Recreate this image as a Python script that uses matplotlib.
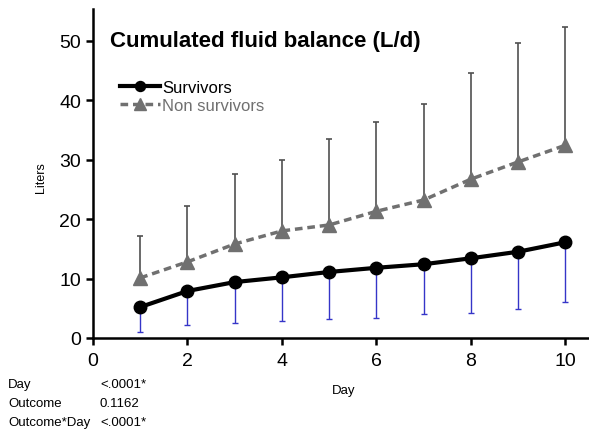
import numpy as np
import matplotlib.pyplot as plt

plt.rcParams['font.family'] = ['Liberation Sans', 'DejaVu Sans']

# Cumulated fluid balance per day (L)
days = np.arange(1, 11)
surv_mean = [5.2, 7.9, 9.4, 10.2, 11.1, 11.8, 12.4, 13.4, 14.5, 16.1]
surv_low = [1.0, 2.2, 2.5, 2.9, 3.2, 3.4, 4.0, 4.2, 4.9, 6.1]
nonsurv_mean = [10.1, 12.8, 15.8, 18.0, 19.0, 21.3, 23.2, 26.7, 29.6, 32.4]
nonsurv_high = [17.1, 22.2, 27.5, 29.9, 33.5, 36.3, 39.3, 44.5, 49.6, 52.3]

stats_terms = ['Day', 'Outcome', 'Outcome*Day']
stats_pvals = ['<.0001*', '0.1162', '<.0001*']

fig = plt.figure(figsize=(5.89, 4.35), dpi=100)
ax = fig.add_axes([93 / 589, 96 / 435, 496 / 589, 329 / 435])

# one-sided error bars: survivors down, non survivors up
s_err = [np.array(surv_mean) - np.array(surv_low), np.zeros(len(days))]
n_err = [np.zeros(len(days)), np.array(nonsurv_high) - np.array(nonsurv_mean)]

ax.errorbar(days, nonsurv_mean, yerr=n_err, fmt='none', ecolor='#505050',
            elinewidth=1.2, capsize=2.5, capthick=1.2, zorder=1)
ax.errorbar(days, surv_mean, yerr=s_err, fmt='none', ecolor='#3535c8',
            elinewidth=1.0, capsize=2.5, capthick=1.0, zorder=1)

ax.plot(days, nonsurv_mean, linestyle=(0, (2.2, 1.4)), color='#707070', lw=2.5,
        marker='^', ms=10, mfc='#707070', mec='#707070', zorder=3,
        label='Non survivors')
ax.plot(days, surv_mean, '-', color='black', lw=3, marker='o', ms=9,
        zorder=4, label='Survivors')

ax.set_xlim(0, 10.5)
ax.set_ylim(0, 55.3)
ax.set_xticks(range(0, 11, 2))
ax.set_yticks(range(0, 51, 10))
ax.tick_params(labelsize=14, width=1.8, length=5, direction='out')
ax.tick_params(axis='x', pad=5)
for side in ['top', 'right']:
    ax.spines[side].set_visible(False)
for side in ['left', 'bottom']:
    ax.spines[side].set_linewidth(1.8)

ax.set_ylabel('Liters', fontsize=9)
ax.yaxis.set_label_coords(-0.092, 0.49)
ax.set_xlabel('Day', fontsize=9.5)
ax.xaxis.set_label_coords(0.506, -0.14)

fig.text(110 / 589, 1 - 41 / 435, 'Cumulated fluid balance (L/d)',
         fontsize=16, fontweight='bold', va='center')

handles, labels = ax.get_legend_handles_labels()
leg = ax.legend(handles[::-1], labels[::-1], loc='upper left',
                bbox_to_anchor=(0.025, 0.83), frameon=False, fontsize=12,
                handlelength=2.4, handletextpad=0.1, labelspacing=0.2,
                markerscale=0.8)
leg.get_texts()[1].set_color('#707070')

for i, (term, p) in enumerate(zip(stats_terms, stats_pvals)):
    y = 1 - (385 + i * 19) / 435
    fig.text(8 / 589, y, term, fontsize=9.5, va='center')
    fig.text(100 / 589, y, p, fontsize=9.5, va='center')

fig.savefig('out.png', dpi=100)
